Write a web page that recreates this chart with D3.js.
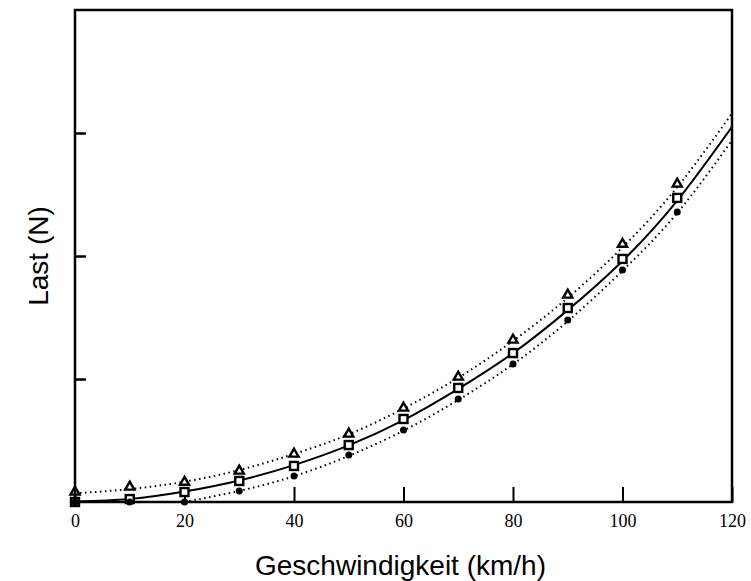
<!DOCTYPE html>
<meta charset="utf-8">
<title>Last vs Geschwindigkeit</title>
<head>
<style>
body { margin: 0; background: #fff; }
.tick text { font-family: "Liberation Serif", serif; font-size: 18px; }
.title { font-family: "Liberation Sans", Arial, sans-serif; font-size: 28px; }
.fit { fill: none; stroke: #000; }
</style>
</head>
<body>
<div id="chart"></div>
<script src="https://cdn.jsdelivr.net/npm/d3@7"></script>
<script>
// measured points (km/h, N)
var speeds = [0, 10, 20, 30, 40, 50, 60, 70, 80, 90, 100, 110];
var upper = [7.3, 11.4, 15.4, 24.4, 38.2, 54.5, 75.6, 100.8, 130.9, 167.5, 208.9, 257.7];
var middle = [0, 2.4, 8.1, 17.1, 29.3, 46.3, 67.5, 92.7, 121.1, 157.7, 197.6, 247.2];
var lower = [0, 0, 0, 8.9, 21.1, 38.2, 58.5, 83.7, 112.2, 148.0, 188.6, 235.8];

// fitted curves
var fitSpeeds = [0, 10, 20, 30, 40, 50, 60, 70, 80, 90, 100, 110, 120];
var fitUpper = [7, 10.5, 16.5, 26, 39, 55, 76, 101, 131, 166, 207, 256, 316];
var fitMiddle = [0.5, 2.5, 8.5, 17.5, 30, 46, 66.5, 92, 121, 156, 196, 245, 305];
var fitLowerSpeeds = [20, 30, 40, 50, 60, 70, 80, 90, 100, 110, 120];
var fitLower = [0, 9, 21, 37.5, 58, 83, 112, 147, 188, 235, 294];

var xTicks = [0, 20, 40, 60, 80, 100, 120];
var yTicks = [100, 200, 300];

var margin = {top: 10, right: 19, bottom: 79, left: 75},
    width = 751 - margin.left - margin.right,
    height = 581 - margin.top - margin.bottom;

var svg = d3.select("#chart").append("svg")
    .attr("width", 751)
    .attr("height", 581)
  .append("g")
    .attr("transform", "translate(" + margin.left + "," + margin.top + ")");

var x = d3.scaleLinear().domain([0, 120]).range([0, width]);
var y = d3.scaleLinear().domain([0, 400]).range([height, 0]);

svg.append("defs").append("clipPath").attr("id", "clip")
  .append("rect").attr("width", width).attr("height", height);

// axes with inward ticks
svg.append("g")
    .attr("transform", "translate(0," + height + ")")
    .call(d3.axisBottom(x).tickValues(xTicks).tickSize(-15).tickPadding(24))
    .call(function(g) { g.select(".domain").remove(); })
    .call(function(g) { g.selectAll(".tick text").attr("y", 12); })
    .call(function(g) { g.selectAll(".tick line").attr("stroke-width", 2); });

svg.append("g")
    .call(d3.axisLeft(y).tickValues(yTicks).tickSize(-11).tickFormat(""))
    .call(function(g) { g.select(".domain").remove(); })
    .call(function(g) { g.selectAll(".tick line").attr("stroke-width", 2.5); });

var line = d3.line()
    .x(function(d) { return x(d[0]); })
    .y(function(d) { return y(d[1]); })
    .curve(d3.curveNatural);

var plot = svg.append("g").attr("clip-path", "url(#clip)");

plot.append("path").attr("class", "fit")
    .attr("d", line(d3.zip(fitSpeeds, fitUpper)))
    .attr("stroke-width", 2).attr("stroke-dasharray", "1.5,3.5");
plot.append("path").attr("class", "fit")
    .attr("d", line(d3.zip(fitLowerSpeeds, fitLower)))
    .attr("stroke-width", 2).attr("stroke-dasharray", "1.5,3.5");
plot.append("path").attr("class", "fit")
    .attr("d", line(d3.zip(fitSpeeds, fitMiddle)))
    .attr("stroke-width", 2);

// markers
svg.append("g").selectAll("path")
    .data(d3.zip(speeds, upper))
  .enter().append("path")
    .attr("transform", function(d) { return "translate(" + x(d[0]) + "," + (y(d[1]) - 1) + ")"; })
    .attr("d", d3.symbol().type(d3.symbolTriangle).size(36))
    .attr("fill", "#fff").attr("stroke", "#000").attr("stroke-width", 2.4);

svg.append("g").selectAll("rect")
    .data(d3.zip(speeds, middle))
  .enter().append("rect")
    .attr("x", function(d) { return x(d[0]) - 4; })
    .attr("y", function(d) { return y(d[1]) - 4; })
    .attr("width", 8).attr("height", 8)
    .attr("fill", "#fff").attr("stroke", "#000").attr("stroke-width", 2.4);

svg.append("g").selectAll("circle")
    .data(d3.zip(speeds, lower))
  .enter().append("circle")
    .attr("cx", function(d) { return x(d[0]); })
    .attr("cy", function(d) { return y(d[1]); })
    .attr("r", 3.5).attr("fill", "#000");

// frame
svg.append("rect")
    .attr("width", width).attr("height", height)
    .attr("fill", "none").attr("stroke", "#000").attr("stroke-width", 2.5);

svg.append("text").attr("class", "title")
    .attr("x", width / 2 - 3).attr("y", height + 73)
    .attr("text-anchor", "middle")
    .text("Geschwindigkeit (km/h)");

svg.append("text").attr("class", "title")
    .attr("transform", "translate(-27," + (height / 2) + ") rotate(-90)")
    .attr("text-anchor", "middle")
    .text("Last (N)");
</script>
</body>
</html>
